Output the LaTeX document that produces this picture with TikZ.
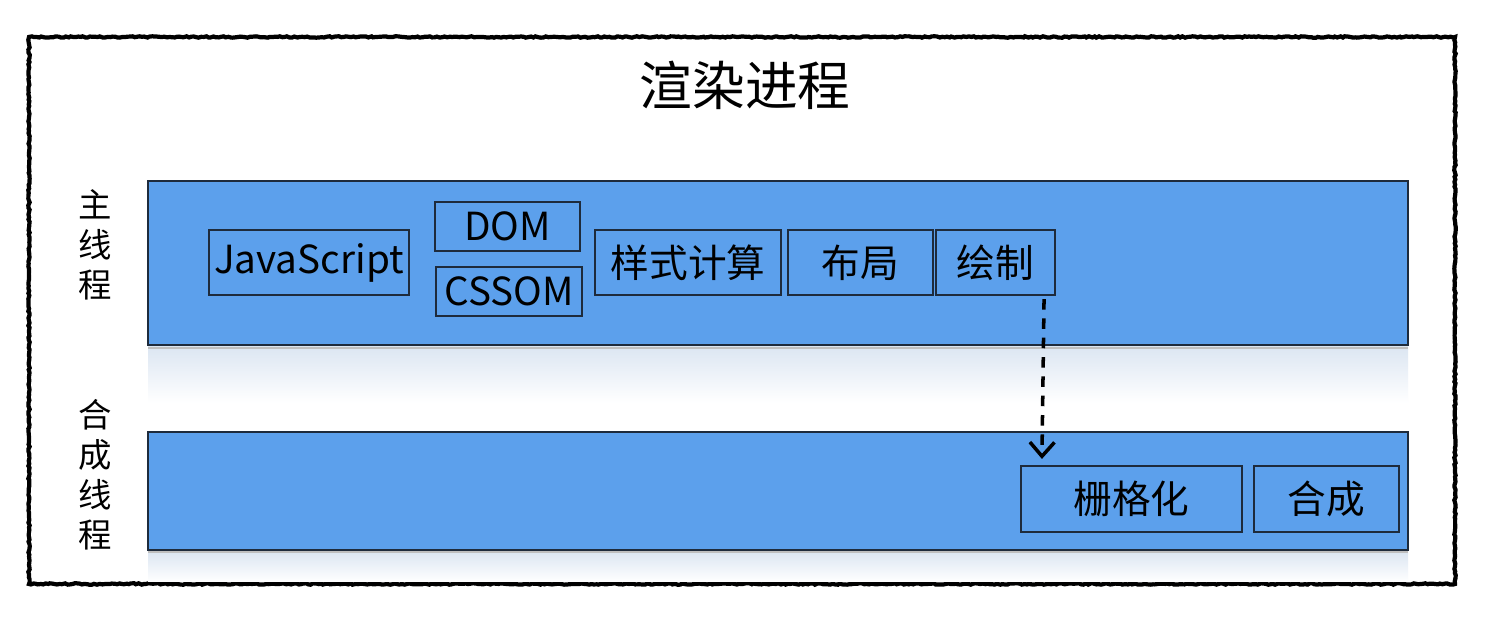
\documentclass[tikz,border=0pt]{standalone}
\usepackage{fontspec}
\newfontfamily\cjk{Noto Sans CJK SC}
\usepackage{xcolor}
\usepackage{tikz}
\usetikzlibrary{positioning, arrows.meta, decorations.pathmorphing}

\definecolor{bandblue}{HTML}{5CA0EC}
\definecolor{edgenavy}{HTML}{1E2B3C}
\definecolor{mirror}{HTML}{DCE6F2}

\tikzset{
  stage/.style={draw=edgenavy, line width=0.6pt, fill=bandblue, inner sep=0pt,
                font=\cjk\fontsize{11}{13}\selectfont},
  band/.style={fill=bandblue, draw=edgenavy, line width=0.5pt},
  sidelabel/.style={font=\cjk\fontsize{9.5}{11.4}\selectfont, align=center},
  flow/.style={-{Straight Barb[length=4pt, width=7pt]}, line width=1pt, dash pattern=on 3pt off 2.5pt}
}

\begin{document}
\begin{tikzpicture}
  \useasboundingbox (0,0) rectangle (15,6.18);
  \fill[white] (0,0) rectangle (15,6.18);

  % ── frame ──
  \draw[line width=1.2pt, decorate, decoration={random steps, segment length=0.7pt, amplitude=0.2pt}]
    (0.29,0.34) rectangle (14.55,5.81);
  \node[font=\cjk\fontsize{15}{18}\selectfont] (title) at (7.45,5.33) {渲染进程};

  % ── main thread ──
  \shade[top color=mirror, bottom color=white] (1.48,2.15) rectangle (14.08,2.71);
  \draw[black!25, line width=0.8pt] (1.48,2.70) -- (14.08,2.70);
  \fill[bandblue] (1.48,2.73) rectangle (14.08,4.37);
  \draw[band, fill=none] (1.48,2.73) rectangle (14.08,4.37);
  \node[sidelabel] (mainlbl) at (0.95,3.73) {主\\线\\程};

  \node[stage, minimum width=2.00cm, minimum height=0.65cm] (js)     at (3.09,3.555) {JavaScript};
  \node[stage, minimum width=1.45cm, minimum height=0.49cm] (dom)    at (5.075,3.915) {DOM};
  \node[stage, minimum width=1.46cm, minimum height=0.49cm] (cssom)  at (5.09,3.265) {CSSOM};
  \node[stage, minimum width=1.86cm, minimum height=0.65cm] (style)  at (6.88,3.555) {样式计算};
  \node[stage, minimum width=1.45cm, minimum height=0.65cm] (layout) at (8.605,3.555) {布局};
  \node[stage, minimum width=1.19cm, minimum height=0.65cm] (paint)  at (9.955,3.555) {绘制};

  % ── compositor thread ──
  \shade[top color=mirror, bottom color=white] (1.48,0.36) rectangle (14.08,0.66);
  \draw[black!25, line width=0.8pt] (1.48,0.66) -- (14.08,0.66);
  \fill[bandblue] (1.48,0.68) rectangle (14.08,1.86);
  \draw[band, fill=none] (1.48,0.68) rectangle (14.08,1.86);
  \node[sidelabel] (complbl) at (0.95,1.43) {合\\成\\线\\程};

  \node[stage, minimum width=2.21cm, minimum height=0.66cm] (raster) at (11.315,1.19) {栅格化};
  \node[stage, minimum width=1.45cm, minimum height=0.66cm] (comp)   at (13.265,1.19) {合成};

  % paint -> raster
  \draw[flow] ([xshift=-0.12cm, yshift=-0.03cm]paint.south east)
    -- ([xshift=0.22cm, yshift=0.06cm]raster.north west);
\end{tikzpicture}
\end{document}
